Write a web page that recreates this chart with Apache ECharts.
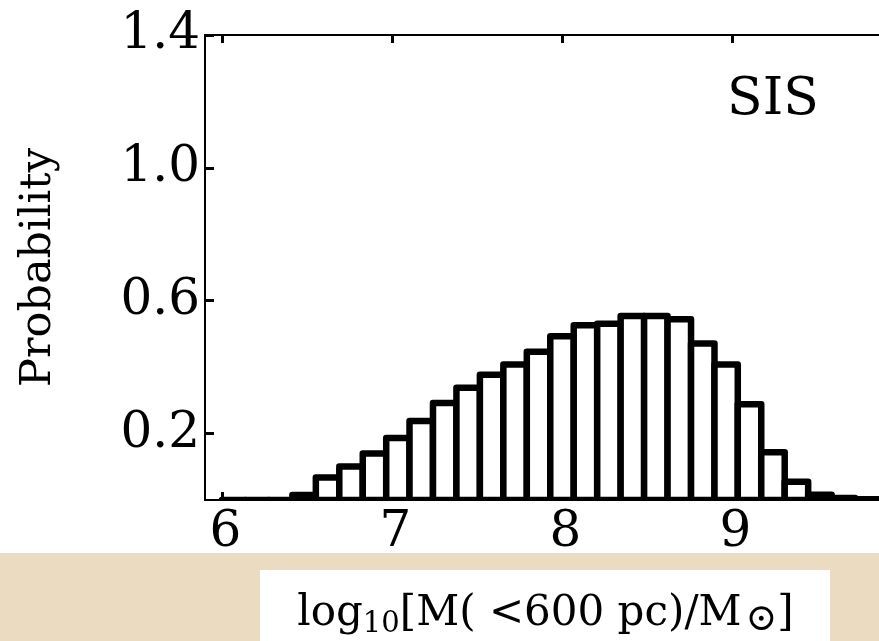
<!DOCTYPE html>
<html>
<head>
<meta charset="utf-8">
<script src="https://cdn.jsdelivr.net/npm/echarts@6/dist/echarts.min.js"></script>
<style>
html,body{margin:0;padding:0;background:#fff;}
#chart{width:879px;height:641px;}
</style>
</head>
<body>
<div id="chart"></div>
<script>
// Histogram bin edges (log10 mass), 29 bins from 6.0 to 10.0
const binEdges = [6.000, 6.138, 6.276, 6.414, 6.552, 6.690, 6.828, 6.966, 7.103, 7.241,
                  7.379, 7.517, 7.655, 7.793, 7.931, 8.069, 8.207, 8.345, 8.483, 8.621,
                  8.759, 8.897, 9.034, 9.172, 9.310, 9.448, 9.586, 9.724, 9.862, 10.000];
// Probability per bin
const probValues = [0, 0, 0, 0.015, 0.068, 0.101, 0.140, 0.187, 0.238, 0.292,
                    0.338, 0.377, 0.408, 0.446, 0.493, 0.526, 0.531, 0.554, 0.554, 0.544,
                    0.471, 0.408, 0.288, 0.144, 0.055, 0.016, 0.006, 0.002, 0];
const xTickValues = [6, 7, 8, 9];
const yTickValues = [0.2, 0.6, 1.0, 1.4];
const panelLabel = 'SIS';
const yTitle = 'Probability';

const FONT = 'DejaVu Serif';
const histData = [];
for (let i = 0; i < probValues.length; i++) {
  histData.push([binEdges[i], binEdges[i + 1], probValues[i]]);
}

const chart = echarts.init(document.getElementById('chart'), null, {renderer: 'canvas'});
const option = {
  animation: false,
  backgroundColor: '#fff',
  grid: {left: 205, top: 35, right: -23, bottom: 141, outerBoundsMode: 'none',
         show: true, borderColor: '#000', borderWidth: 2, backgroundColor: 'transparent'},
  xAxis: [{
    type: 'value', min: 5.9, max: 10, position: 'bottom',
    axisLine: {show: true, onZero: false, lineStyle: {color: '#000', width: 2}},
    axisTick: {show: true, inside: true, length: 8, customValues: xTickValues,
               lineStyle: {color: '#000', width: 3}},
    axisLabel: {show: true, customValues: xTickValues, fontFamily: FONT, fontSize: 50,
                color: '#000', margin: 8, padding: [0, 0, 0, 7], formatter: v => String(v)},
    splitLine: {show: false},
    name: '{a|log}{s|10}{a|[M( <600 pc)/M}{o|⊙}{a|]}',
    nameLocation: 'middle', nameGap: 89,
    nameTextStyle: {
      padding: [0, 16, 0, 0],
      rich: {
        a: {fontFamily: FONT, fontSize: 42, color: '#000', lineHeight: 50, verticalAlign: 'middle'},
        s: {fontFamily: FONT, fontSize: 29, color: '#000', lineHeight: 22, verticalAlign: 'bottom'},
        o: {fontFamily: FONT, fontSize: 38, color: '#000', lineHeight: 28, verticalAlign: 'bottom',
            padding: [0, 0, 0, 4]}
      }
    }
  }, {
    type: 'value', min: 5.9, max: 10, position: 'top',
    axisLine: {show: true, onZero: false, lineStyle: {color: '#000', width: 2}},
    axisTick: {show: true, inside: true, length: 8, customValues: xTickValues,
               lineStyle: {color: '#000', width: 3}},
    axisLabel: {show: false},
    splitLine: {show: false}
  }],
  yAxis: {
    type: 'value', min: 0, max: 1.4,
    axisLine: {show: true, onZero: false, lineStyle: {color: '#000', width: 2}},
    axisTick: {show: true, inside: true, length: 9, customValues: yTickValues,
               lineStyle: {color: '#000', width: 3}},
    axisLabel: {show: true, customValues: yTickValues, fontFamily: FONT, fontSize: 50,
                color: '#000', margin: 5, formatter: v => v.toFixed(1)},
    splitLine: {show: false},
    name: yTitle, nameLocation: 'middle', nameGap: 145,
    nameTextStyle: {fontFamily: FONT, fontSize: 43, color: '#000'}
  },
  graphic: [
    {type: 'rect', z: -10, shape: {x: 0, y: 553, width: 879, height: 88}, style: {fill: '#EADBC1'}},
    {type: 'rect', z: -9, shape: {x: 260, y: 570, width: 570, height: 71}, style: {fill: '#fff'}},
    {type: 'text', z: 10, x: 773, y: 100,
     style: {text: panelLabel, font: '52px "DejaVu Serif"', fill: '#000', align: 'center', verticalAlign: 'middle'}}
  ],
  series: [{
    type: 'custom',
    xAxisIndex: 0,
    clip: true,
    data: histData,
    encode: {x: [0, 1], y: 2},
    renderItem: function (params, api) {
      const p0 = api.coord([api.value(0), api.value(2)]);
      const p1 = api.coord([api.value(1), 0]);
      return {
        type: 'rect',
        shape: {x: p0[0], y: p0[1], width: p1[0] - p0[0], height: p1[1] - p0[1]},
        style: {fill: '#fff', stroke: '#000', lineWidth: 6.5, lineJoin: 'round'}
      };
    }
  }]
};
chart.setOption(option);
</script>
</body>
</html>
